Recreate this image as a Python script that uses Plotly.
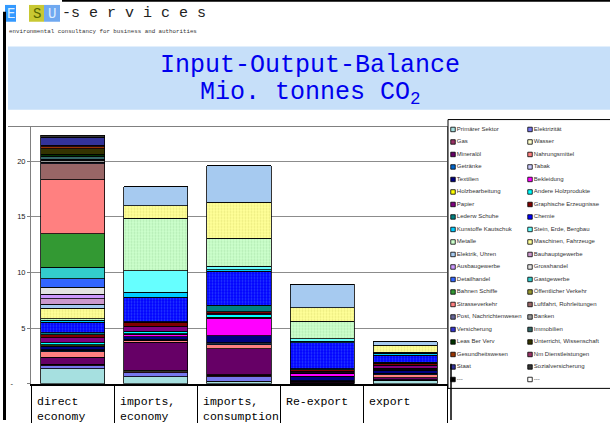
import plotly.graph_objects as go

W, H = 610, 425

CATEGORIES = ["direct economy", "imports, economy", "imports, consumption", "Re-export", "export"]
CATEGORY_LABELS = ["direct<br>economy", "imports,<br>economy", "imports,<br>consumption", "Re-export", "export"]

SECTORS = [
    "Primärer Sektor", "Elektrizität", "Gas", "Wasser", "Mineralöl", "Nahrungsmittel",
    "Getränke", "Tabak", "Textilien", "Bekleidung", "Holzbearbeitung", "Andere Holzprodukte",
    "Papier", "Graphische Erzeugnisse", "Lederw Schuhe", "Chemie", "Kunstoffe Kautschuk",
    "Stein, Erde, Bergbau", "Metalle", "Maschinen, Fahrzeuge", "Elektrik, Uhren",
    "Bauhauptgewerbe", "Ausbaugewerbe", "Grosshandel", "Detailhandel", "Gastgewerbe",
    "Bahnen Schiffe", "Öffentlicher Verkehr", "Strasseverkehr", "Luftfahrt, Rohrleitungen",
    "Post, Nachrichtenwesen", "Banken", "Versicherung", "Immobilien", "Leas Ber Verv",
    "Unterricht, Wissenschaft", "Gesundheitswesen", "Nm Dienstleistungen", "Staat",
    "Sozialversicherung",
]
SECTOR_COLORS = [
    "#A6E0E0", "#7777EE", "#993366", "#FFFFCC", "#660066", "#FF8080",
    "#0066CC", "#CCCCFF", "#000080", "#FF00FF", "#FFFF00", "#00FFFF",
    "#800080", "#800000", "#008080", "#0000FF", "#00CCFF",
    "#66FFFF", "#CCFFCC", "#FFFF99", "#A6CAF0",
    "#CC99CC", "#CC99FF", "#E3E3E3", "#3366FF", "#33CCCC",
    "#339933", "#999933", "#FF8080", "#996666",
    "#666699", "#969696", "#3333CC", "#336666", "#003300",
    "#333300", "#993300", "#993366", "#333399",
    "#333333",
]
EXTRA_LEGEND = ["---", "---"]
EXTRA_COLORS = ["#000000", "#FFFFFF"]

# values in Mio. tonnes CO2, one entry per sector (same order as SECTORS)
direct_economy = [
    1.33, 0.30, 0.12, 0.02, 0.63, 0.48, 0.12, 0.06, 0.30, 0.06, 0.06, 0.22, 0.45, 0.25,
    0.18, 0.95, 0.12, 0.05, 0.15, 0.92, 0.35, 0.50, 0.40, 0.65, 0.75, 1.02, 3.02, 0.03,
    4.84, 1.44, 0.12, 0.20, 0.06, 0.30, 0.15, 0.50, 0.20, 0.12, 0.70, 0.19,
]
imports_economy = [
    0.62, 0.38, 0.08, 0.15, 2.50, 0.12, 0.05, 0.03, 0.30, 0.22, 0.03, 0.25, 0.45, 0.35,
    0.05, 2.20, 0.45, 1.90, 4.75, 1.12, 1.67, 0, 0, 0, 0, 0, 0, 0,
    0, 0, 0, 0, 0, 0, 0, 0, 0, 0, 0, 0,
]
imports_consumption = [
    0.22, 0.40, 0.12, 0.08, 2.30, 0.38, 0.08, 0.10, 0.65, 1.55, 0.10, 0.22, 0.10, 0.15,
    0.60, 3.05, 0.15, 0.32, 2.50, 3.22, 3.30, 0, 0, 0, 0, 0, 0, 0,
    0, 0, 0, 0, 0, 0, 0, 0, 0, 0, 0, 0,
]
re_export = [
    0.05, 0.00, 0.05, 0.00, 0.10, 0.03, 0.02, 0.02, 0.40, 0.25, 0.03, 0.05, 0.10, 0.15,
    0.08, 2.35, 0.12, 0.25, 1.55, 1.22, 2.11, 0, 0, 0, 0, 0, 0, 0,
    0, 0, 0, 0, 0, 0, 0, 0, 0, 0, 0, 0,
]
export = [
    0.25, 0.05, 0.05, 0.00, 0.20, 0.25, 0.10, 0.05, 0.25, 0.10, 0.05, 0.05, 0.25, 0.20,
    0.10, 0.62, 0.10, 0.05, 0.10, 0.62, 0.34, 0, 0, 0, 0, 0, 0, 0,
    0, 0, 0, 0, 0, 0, 0, 0, 0, 0, 0, 0,
]
SERIES_BY_CATEGORY = [direct_economy, imports_economy, imports_consumption, re_export, export]

Y_TICKS = [0, 5, 10, 15, 20]
Y_TICK_TEXT = ["-" + "\u00a0" * 6, "5", "10", "15", "20"]

# dotted fills seen in the original
DOTTED = {"Chemie": "#4D7BFF", "Metalle": "#99D699", "Maschinen, Fahrzeuge": "#D6D666"}

MONO = "Liberation Mono, DejaVu Sans Mono, monospace"
SANS = "Arial, Liberation Sans, sans-serif"


def px(x):
    return x / W


def py(y):
    return 1 - y / H


fig = go.Figure()

for i, name in enumerate(SECTORS):
    marker = dict(color=SECTOR_COLORS[i], line=dict(color="black", width=0.8))
    if name in DOTTED:
        marker["pattern"] = dict(shape=".", fillmode="overlay", fgcolor=DOTTED[name],
                                 size=3, solidity=0.35)
    fig.add_trace(go.Bar(
        x=CATEGORIES,
        y=[values[i] for values in SERIES_BY_CATEGORY],
        name=name,
        marker=marker,
        showlegend=False,
    ))

# hand-made two-column legend, entries laid out row by row
legend_names = SECTORS + EXTRA_LEGEND
legend_colors = SECTOR_COLORS + EXTRA_COLORS
fig.add_trace(go.Scatter(
    x=[5 + 77 * (i % 2) for i in range(len(legend_names))],
    y=[10 + 12.65 * (i // 2) for i in range(len(legend_names))],
    mode="markers+text",
    text=legend_names,
    textposition="middle right",
    textfont=dict(family=SANS, size=6, color="#333333"),
    marker=dict(symbol="square", size=4.5, color=legend_colors,
                line=dict(color="black", width=0.8)),
    cliponaxis=False,
    hoverinfo="skip",
    showlegend=False,
    xaxis="x2",
    yaxis="y2",
))

shapes = [
    # title band
    dict(type="rect", xref="paper", yref="paper", x0=px(8), x1=px(610), y0=py(111), y1=py(47),
         fillcolor="#C6DFF9", line=dict(width=0), layer="below"),
    # logo blocks
    dict(type="rect", xref="paper", yref="paper", x0=px(5), x1=px(16), y0=py(22), y1=py(5),
         fillcolor="#3399FF", line=dict(width=0)),
    dict(type="rect", xref="paper", yref="paper", x0=px(29), x1=px(44), y0=py(22), y1=py(5),
         fillcolor="#C8C832", line=dict(width=0)),
    dict(type="rect", xref="paper", yref="paper", x0=px(44), x1=px(60), y0=py(22), y1=py(5),
         fillcolor="#6FA8F0", line=dict(width=0)),
    # slide borders
    dict(type="line", xref="paper", yref="paper", x0=px(4.5), x1=px(4.5), y0=py(12), y1=py(425),
         line=dict(color="black", width=3)),
    dict(type="line", xref="paper", yref="paper", x0=px(62), x1=px(610), y0=py(0.8), y1=py(0.8),
         line=dict(color="black", width=2)),
    # chart frame top
    dict(type="line", xref="paper", yref="paper", x0=px(8), x1=px(448), y0=py(128), y1=py(128),
         line=dict(color="#808080", width=1.2)),
    # legend box
    dict(type="rect", xref="paper", yref="paper", x0=px(448), x1=px(612), y0=py(393), y1=py(121),
         line=dict(color="black", width=1), fillcolor="rgba(0,0,0,0)"),
    dict(type="line", xref="paper", yref="paper", x0=px(451), x1=px(451), y0=py(368), y1=py(425),
         line=dict(color="black", width=1.5)),
]


def paper_text(text, x, y, size, color, family=MONO, xanchor="center"):
    return dict(text=text, x=px(x), y=py(y), xref="paper", yref="paper",
                xanchor=xanchor, yanchor="middle", showarrow=False,
                font=dict(family=family, size=size, color=color))


annotations = [
    paper_text("Input-Output-Balance", 310, 66, 25, "#0000EE"),
    paper_text("Mio. tonnes CO<sub>2</sub>", 310, 95, 25, "#0000EE"),
    paper_text("E", 10.5, 14, 14, "#DDEEFF"),
    paper_text("S", 36.5, 14, 14, "#556600"),
    paper_text("U", 52, 14, 14, "#DDEEFF"),
    paper_text("-s e r v i c e s", 60, 14, 15, "#222222", xanchor="left"),
    paper_text("environmental consultancy for business and authorities", 7, 32, 5.8,
               "#333333", xanchor="left"),
]
for cat, label in zip(CATEGORIES, CATEGORY_LABELS):
    annotations.append(dict(
        text=label, x=cat, xref="x", y=py(398), yref="paper", xanchor="left", yanchor="top",
        xshift=-38, align="left", showarrow=False,
        font=dict(family=MONO, size=11.5, color="black"),
    ))

fig.update_layout(
    width=W,
    height=H,
    margin=dict(l=0, r=0, t=0, b=0),
    paper_bgcolor="white",
    plot_bgcolor="white",
    barmode="stack",
    bargap=0.23,
    showlegend=False,
    shapes=shapes,
    annotations=annotations,
    xaxis=dict(
        domain=[px(31), px(447)],
        type="category",
        range=[-0.5, 4.5],
        showline=True, linecolor="black", linewidth=2,
        ticks="outside", tickson="boundaries", ticklen=37, tickcolor="black", tickwidth=1,
        showticklabels=False, showgrid=False, fixedrange=True,
    ),
    yaxis=dict(
        domain=[py(388.3), py(128)],
        range=[0, 23.1],
        tickvals=Y_TICKS, ticktext=Y_TICK_TEXT,
        ticks="outside", ticklen=3, tickcolor="#808080",
        tickfont=dict(family=SANS, size=7.5, color="#222222"),
        showline=True, linecolor="#808080", linewidth=1, mirror=True,
        showgrid=True, gridcolor="#8C8C8C", gridwidth=1,
        zeroline=False, fixedrange=True,
    ),
    yaxis3=dict(
        overlaying="y", anchor="x",
        range=[0, 23.1], tickvals=[5, 15],
        showgrid=True, gridcolor="black", gridwidth=1,
        showticklabels=False, ticks="", showline=False, zeroline=False,
    ),
    xaxis2=dict(domain=[px(448), px(610)], range=[0, 162], visible=False, anchor="y2",
                fixedrange=True),
    yaxis2=dict(domain=[py(393), py(121)], range=[272, 0], visible=False, anchor="x2",
                fixedrange=True),
)

# the page's default body margin would shift the slide by 8px
fig.write_html(
    "out.html",
    config={"displayModeBar": False},
    post_script="document.body.style.margin = '0';",
)
